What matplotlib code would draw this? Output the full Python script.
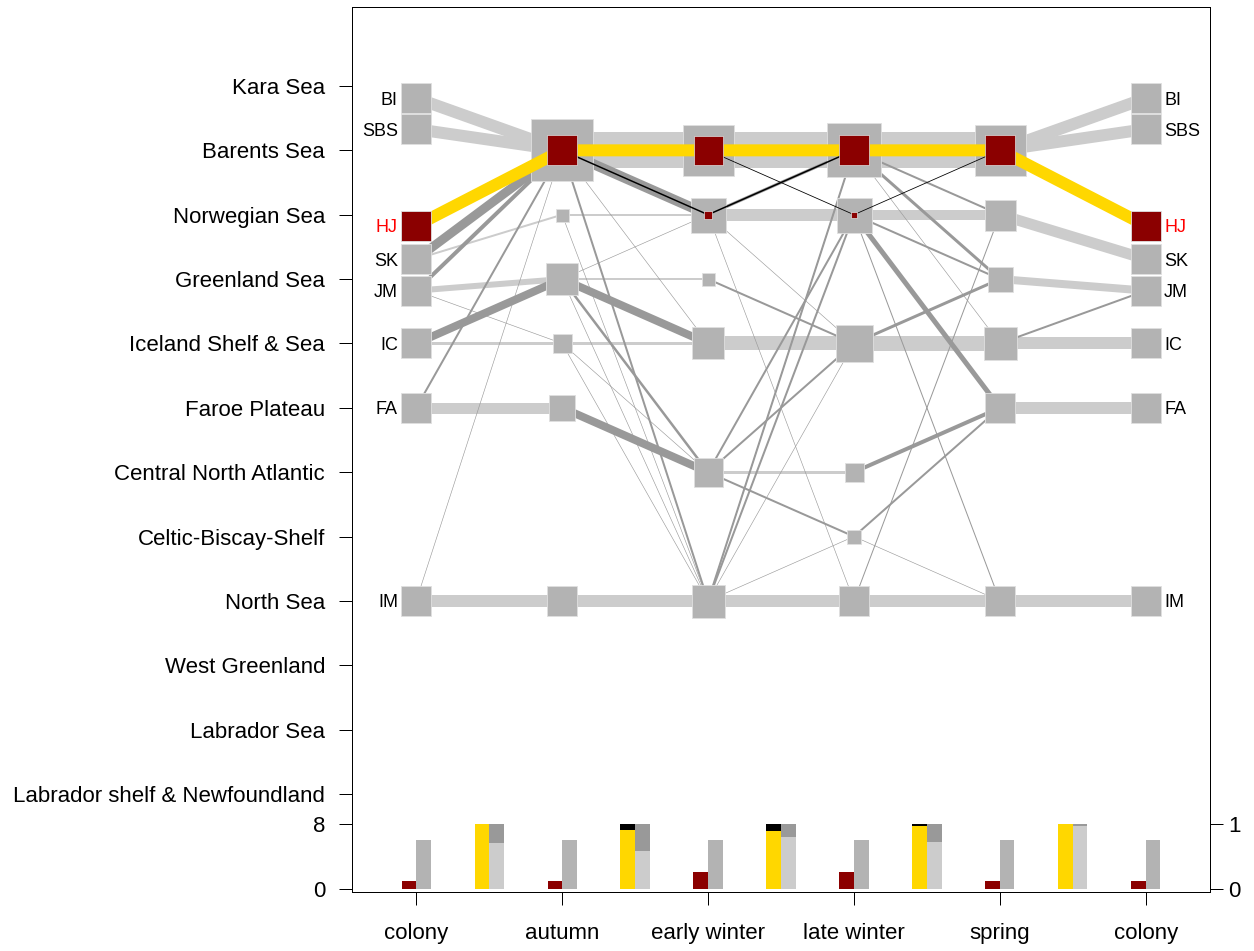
import matplotlib
matplotlib.use('Agg')
import matplotlib.pyplot as plt

plt.rcParams['font.family'] = ['Liberation Sans', 'DejaVu Sans']

# ---------------- data ----------------
regions = ['Kara Sea', 'Barents Sea', 'Norwegian Sea', 'Greenland Sea',
           'Iceland Shelf & Sea', 'Faroe Plateau', 'Central North Atlantic',
           'Celtic-Biscay-Shelf', 'North Sea', 'West Greenland', 'Labrador Sea',
           'Labrador shelf & Newfoundland']
region_codes = ['KS', 'BS', 'NwS', 'GS', 'IS', 'FP', 'CNA', 'CBS', 'NS', 'WG', 'LS', 'LN']
stages = ['colony', 'autumn', 'early winter', 'late winter', 'spring', 'colony']

colonies = ['BI', 'SBS', 'HJ', 'SK', 'JM', 'IC', 'FA', 'IM']
colony_y = [11.81, 11.33, 9.83, 9.31, 8.82, 8.0, 7.0, 4.0]
colony_region = ['BS', 'BS', 'NwS', 'NwS', 'GS', 'IS', 'FP', 'NS']
focal = 'HJ'
colony_node = 30

# occupied regions per non-breeding stage and their (all birds) node size
stage_regions = [
    ['BS', 'NwS', 'GS', 'IS', 'FP', 'NS'],          # autumn
    ['BS', 'NwS', 'GS', 'IS', 'CNA', 'NS'],         # early winter
    ['BS', 'NwS', 'IS', 'CNA', 'CBS', 'NS'],        # late winter
    ['BS', 'NwS', 'GS', 'IS', 'FP', 'NS'],          # spring
]
stage_sizes = [
    [62, 13, 32, 19, 26, 30],
    [51, 35, 13, 32, 29, 33],
    [54, 35, 37, 19, 14, 30],
    [51, 31, 25, 33, 30, 30],
]
# focal colony (HJ) node sizes
focal_regions = [['BS'], ['BS', 'NwS'], ['BS', 'NwS'], ['BS']]
focal_sizes = [[30], [29, 8], [30, 6], [30]]

# flows between consecutive stages: (from, to, weight)
flows = [
    [('BI', 'BS', 12), ('SBS', 'BS', 12), ('SK', 'BS', 9), ('SK', 'NwS', 2),
     ('JM', 'BS', 4), ('JM', 'GS', 6), ('JM', 'IS', 0.6), ('IC', 'GS', 8),
     ('IC', 'IS', 3), ('FA', 'FP', 11), ('FA', 'BS', 2), ('IM', 'NS', 12),
     ('IM', 'BS', 0.6)],
    [('BS', 'BS', 36), ('BS', 'NwS', 10), ('BS', 'NS', 2), ('BS', 'IS', 0.6),
     ('NwS', 'NwS', 2), ('NwS', 'NS', 0.6), ('GS', 'NwS', 0.6), ('GS', 'GS', 2),
     ('GS', 'IS', 8), ('GS', 'CNA', 2.5), ('GS', 'NS', 0.6), ('IS', 'IS', 3),
     ('IS', 'CNA', 0.6), ('IS', 'NS', 0.6), ('FP', 'CNA', 8), ('NS', 'NS', 12)],
    [('BS', 'BS', 36), ('NwS', 'BS', 3), ('NwS', 'NwS', 12), ('NwS', 'IS', 0.6),
     ('NwS', 'NS', 0.6), ('GS', 'IS', 2), ('IS', 'IS', 14), ('CNA', 'CNA', 3),
     ('CNA', 'CBS', 2), ('CNA', 'IS', 2), ('CNA', 'NwS', 2), ('NS', 'NS', 12),
     ('NS', 'CBS', 0.6), ('NS', 'BS', 2), ('NS', 'NwS', 2), ('NS', 'IS', 0.6),
     ('NS', 'BS', 0.6)],
    [('BS', 'BS', 36), ('BS', 'NwS', 2), ('BS', 'GS', 3), ('BS', 'IS', 0.6),
     ('NwS', 'NwS', 10), ('NwS', 'GS', 2), ('NwS', 'FP', 5), ('NwS', 'NS', 1),
     ('IS', 'IS', 15), ('IS', 'GS', 3), ('CNA', 'FP', 4), ('CBS', 'FP', 2),
     ('CBS', 'NS', 0.6), ('NS', 'NS', 12), ('NS', 'NwS', 1)],
    [('BS', 'BI', 12), ('BS', 'SBS', 12), ('NwS', 'SK', 11), ('GS', 'JM', 8),
     ('IS', 'IC', 12), ('IS', 'JM', 2), ('FP', 'FA', 12), ('NS', 'IM', 12)],
]

# focal colony tracks: (stage sequence start, path, weight)
focal_main = (0, ['HJ', 'BS', 'BS', 'BS', 'BS', 'HJ'], 12)
focal_alt = [(1, ['BS', 'NwS', 'BS'], 1.5), (2, ['BS', 'NwS', 'BS'], 0.8)]

# bar summaries
regions_all = [6, 6, 6, 6, 6, 6]
regions_focal = [1, 1, 2, 2, 1, 1]
stay_focal = [1.0, 0.918, 0.898, 0.974, 1.0]
stay_all = [0.714, 0.587, 0.806, 0.724, 0.97]

# ---------------- styles ----------------
C_NODE = '#B3B3B3'
C_STAY = '#CCCCCC'
C_MOVE = '#999999'
C_RED = '#8B0000'
C_GOLD = '#FFD700'
PX = 0.72  # points per pixel at dpi 100

region_y = {c: 12 - i for i, c in enumerate(region_codes)}
col_y = dict(zip(colonies, colony_y))
col_reg = dict(zip(colonies, colony_region))


def ypos(name):
    return col_y[name] if name in col_y else region_y[name]


def reg(name):
    return col_reg.get(name, name)


fig = plt.figure(figsize=(12.54, 9.51), dpi=100)
ax = fig.add_axes([352 / 1254, 1 - 892 / 951, (1210 - 352) / 1254, (892 - 7) / 951])
ax.set_xlim(-0.44, 5.44)
ax.set_ylim(-0.523, 13.227)

# flows
for t, fl in enumerate(flows):
    for a, b, w in fl:
        same = reg(a) == reg(b)
        ax.plot([t, t + 1], [ypos(a), ypos(b)], color=C_STAY if same else C_MOVE,
                lw=w * PX, solid_capstyle='butt', zorder=1 if same else 2)

# colony nodes
for xc in (0, 5):
    for c, y in zip(colonies, colony_y):
        ax.scatter([xc], [y], marker='s', s=(colony_node * PX) ** 2,
                   color=C_RED if c == focal else C_NODE,
                   edgecolors='#E0E0E0', linewidths=0.6, zorder=5 if c == focal else 3)
        if xc == 0:
            ax.text(-0.125, y, c, ha='right', va='center_baseline', fontsize=13,
                    color='red' if c == focal else 'black')
        else:
            ax.text(5.125, y, c, ha='left', va='center_baseline', fontsize=13,
                    color='red' if c == focal else 'black')

# stage nodes
for i, (rs, ss) in enumerate(zip(stage_regions, stage_sizes)):
    for r, s in zip(rs, ss):
        ax.scatter([i + 1], [region_y[r]], marker='s', s=(s * PX) ** 2, color=C_NODE,
                   edgecolors='#E0E0E0', linewidths=0.6, zorder=3)
    for r, s in zip(focal_regions[i], focal_sizes[i]):
        ax.scatter([i + 1], [region_y[r]], marker='s', s=(s * PX) ** 2, color=C_RED,
                   edgecolors='#E0E0E0', linewidths=0.5, zorder=5)

# focal tracks
s0, path, w = focal_main
ax.plot(range(s0, s0 + len(path)), [ypos(p) for p in path], color=C_GOLD,
        lw=w * PX, solid_capstyle='butt', solid_joinstyle='miter', zorder=4)
for s0, path, w in focal_alt:
    ax.plot(range(s0, s0 + len(path)), [ypos(p) for p in path], color='black',
            lw=w * PX, zorder=4)

# bars
base = -0.47
bw = 0.1
for i in range(6):
    ax.bar(i - bw / 2, regions_focal[i] / 8, width=bw, bottom=base, color=C_RED, zorder=3)
    ax.bar(i + bw / 2, regions_all[i] / 8, width=bw, bottom=base, color=C_NODE, zorder=3)
for i in range(5):
    x = i + 0.5
    ax.bar(x - bw / 2, stay_focal[i], width=bw, bottom=base, color=C_GOLD, zorder=3)
    ax.bar(x - bw / 2, 1 - stay_focal[i], width=bw, bottom=base + stay_focal[i],
           color='black', zorder=3)
    ax.bar(x + bw / 2, stay_all[i], width=bw, bottom=base, color=C_STAY, zorder=3)
    ax.bar(x + bw / 2, 1 - stay_all[i], width=bw, bottom=base + stay_all[i],
           color=C_MOVE, zorder=3)

# axes
yt = [region_y[c] for c in region_codes] + [base + 1, base]
ax.set_yticks(yt)
ax.set_yticklabels(regions + ['8', '0'])
ax.set_xticks(range(6))
ax.set_xticklabels(stages)
ax.tick_params(axis='both', length=13 * PX, width=1 * PX, labelsize=16, pad=10)
ax.tick_params(axis='x', pad=13)

ax2 = ax.twinx()
ax2.set_ylim(ax.get_ylim())
ax2.set_yticks([base + 1, base])
ax2.set_yticklabels(['1', '0'])
ax2.tick_params(axis='y', length=13 * PX, width=1 * PX, labelsize=16, pad=4)

for a in (ax, ax2):
    for sp in a.spines.values():
        sp.set_linewidth(1 * PX)

fig.savefig('out.png', dpi=100)
